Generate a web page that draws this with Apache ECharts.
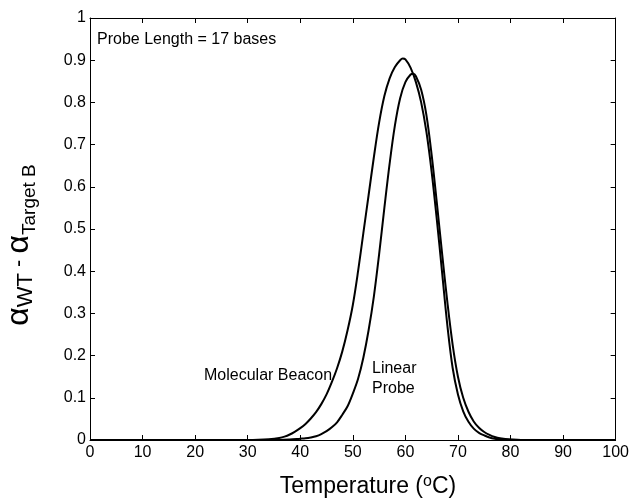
<!DOCTYPE html>
<html>
<head>
<meta charset="utf-8">
<script src="https://cdn.jsdelivr.net/npm/echarts@6/dist/echarts.min.js"></script>
<style>
  html, body { margin: 0; padding: 0; background: #fff; }
  #main { width: 632px; height: 501px; }
</style>
</head>
<body>
<div id="main"></div>
<script>
// molecular beacon curve (temperature, alpha difference)
var tempMB = [0, 30, 32, 34, 36, 37, 38, 39, 40, 41, 42, 43, 44, 45, 46, 47, 48, 49, 50, 51, 52, 53, 54, 55, 56, 57, 58, 59, 59.5, 60, 61, 62, 63, 64, 65, 66, 67, 68, 69, 70, 71, 72, 73, 74, 75, 76, 77, 78, 80, 82, 100];
var alphaMB = [0, 0, 0.0005, 0.002, 0.005, 0.008, 0.013, 0.02, 0.028, 0.038, 0.051, 0.066, 0.085, 0.108, 0.137, 0.17, 0.21, 0.26, 0.32, 0.4, 0.49, 0.58, 0.67, 0.752, 0.815, 0.857, 0.884, 0.9, 0.904, 0.902, 0.882, 0.848, 0.8, 0.73, 0.635, 0.52, 0.395, 0.27, 0.17, 0.108, 0.068, 0.043, 0.027, 0.017, 0.011, 0.006, 0.003, 0.0015, 0.0003, 0, 0];
// linear probe curve
var tempLP = [0, 36, 38, 40, 41, 42, 43, 44, 45, 46, 47, 48, 49, 50, 51, 52, 53, 54, 55, 56, 57, 58, 59, 60, 61, 61.5, 62, 63, 64, 65, 66, 67, 68, 69, 70, 71, 72, 73, 74, 75, 76, 77, 78, 80, 82, 100];
var alphaLP = [0, 0, 0.001, 0.003, 0.004, 0.006, 0.009, 0.014, 0.021, 0.03, 0.042, 0.06, 0.08, 0.11, 0.145, 0.195, 0.26, 0.34, 0.44, 0.55, 0.655, 0.745, 0.81, 0.848, 0.866, 0.868, 0.862, 0.83, 0.77, 0.675, 0.56, 0.44, 0.325, 0.225, 0.15, 0.1, 0.067, 0.044, 0.029, 0.019, 0.012, 0.007, 0.004, 0.001, 0, 0];

var FONT = 'Liberation Sans';
var chart = echarts.init(document.getElementById('main'));

function pairs(xs, ys) {
  return xs.map(function (x, i) { return [x, ys[i]]; });
}
function axisLine() {
  return { show: true, onZero: false, lineStyle: { color: '#000', width: 1 } };
}
function tick() {
  return { show: true, inside: true, length: 5, lineStyle: { color: '#000', width: 1 } };
}

var lineStyle = { color: '#000', width: 2 };

var option = {
  animation: false,
  backgroundColor: '#fff',
  grid: { left: 90, right: 13, top: 18, bottom: 61 },
  xAxis: [{
    type: 'value', min: 0, max: 100, interval: 10,
    axisLine: axisLine(), axisTick: tick(), splitLine: { show: false },
    axisLabel: { color: '#000', fontFamily: FONT, fontSize: 16, margin: 5 }
  }, {
    type: 'value', min: 0, max: 100, interval: 10, position: 'top',
    axisLine: axisLine(), axisTick: tick(), axisLabel: { show: false }, splitLine: { show: false }
  }],
  yAxis: [{
    type: 'value', min: 0, max: 1, interval: 0.1,
    axisLine: axisLine(), axisTick: tick(), splitLine: { show: false },
    axisLabel: { color: '#000', fontFamily: FONT, fontSize: 16, margin: 4 }
  }, {
    type: 'value', min: 0, max: 1, interval: 0.1, position: 'right',
    axisLine: axisLine(), axisTick: tick(), axisLabel: { show: false }, splitLine: { show: false }
  }],
  series: [{
    name: 'Molecular Beacon', type: 'line', showSymbol: false,
    smooth: 0.35,
    data: pairs(tempMB, alphaMB), lineStyle: lineStyle
  }, {
    name: 'Linear Probe', type: 'line', showSymbol: false,
    smooth: 0.35,
    data: pairs(tempLP, alphaLP), lineStyle: lineStyle
  }],
  graphic: [{
    type: 'text', left: 97, top: 32,
    style: { text: 'Probe Length = 17 bases', font: '16px ' + FONT, fill: '#000' }
  }, {
    type: 'text', left: 204, top: 368,
    style: { text: 'Molecular Beacon', font: '16px ' + FONT, fill: '#000' }
  }, {
    type: 'text', left: 372, top: 359,
    style: { text: 'Linear\nProbe', font: '16px ' + FONT, fill: '#000', lineHeight: 20 }
  }, {
    type: 'text', x: 368, y: 487,
    style: {
      text: 'Temperature ({s|o}C)',
      align: 'center', verticalAlign: 'middle', fill: '#000',
      font: '23px ' + FONT,
      rich: { s: { fontFamily: FONT, fontSize: 16, lineHeight: 30, verticalAlign: 'top', padding: [2, 0, 0, 0] } }
    }
  }, {
    type: 'text', x: 19, y: 245, rotation: Math.PI / 2,
    style: {
      text: '{a|α}{w|WT}{m| - }{a|α}{t|Target B}',
      align: 'center', verticalAlign: 'middle', fill: '#000',
      rich: {
        a: { fontFamily: FONT, fontSize: 32, lineHeight: 40, verticalAlign: 'middle' },
        w: { fontFamily: FONT, fontSize: 22, lineHeight: 40, verticalAlign: 'bottom', padding: [0, 0, 2, 0] },
        m: { fontFamily: FONT, fontSize: 22, lineHeight: 40, verticalAlign: 'middle' },
        t: { fontFamily: FONT, fontSize: 19, lineHeight: 40, verticalAlign: 'bottom' }
      }
    }
  }]
};

chart.setOption(option);
</script>
</body>
</html>
